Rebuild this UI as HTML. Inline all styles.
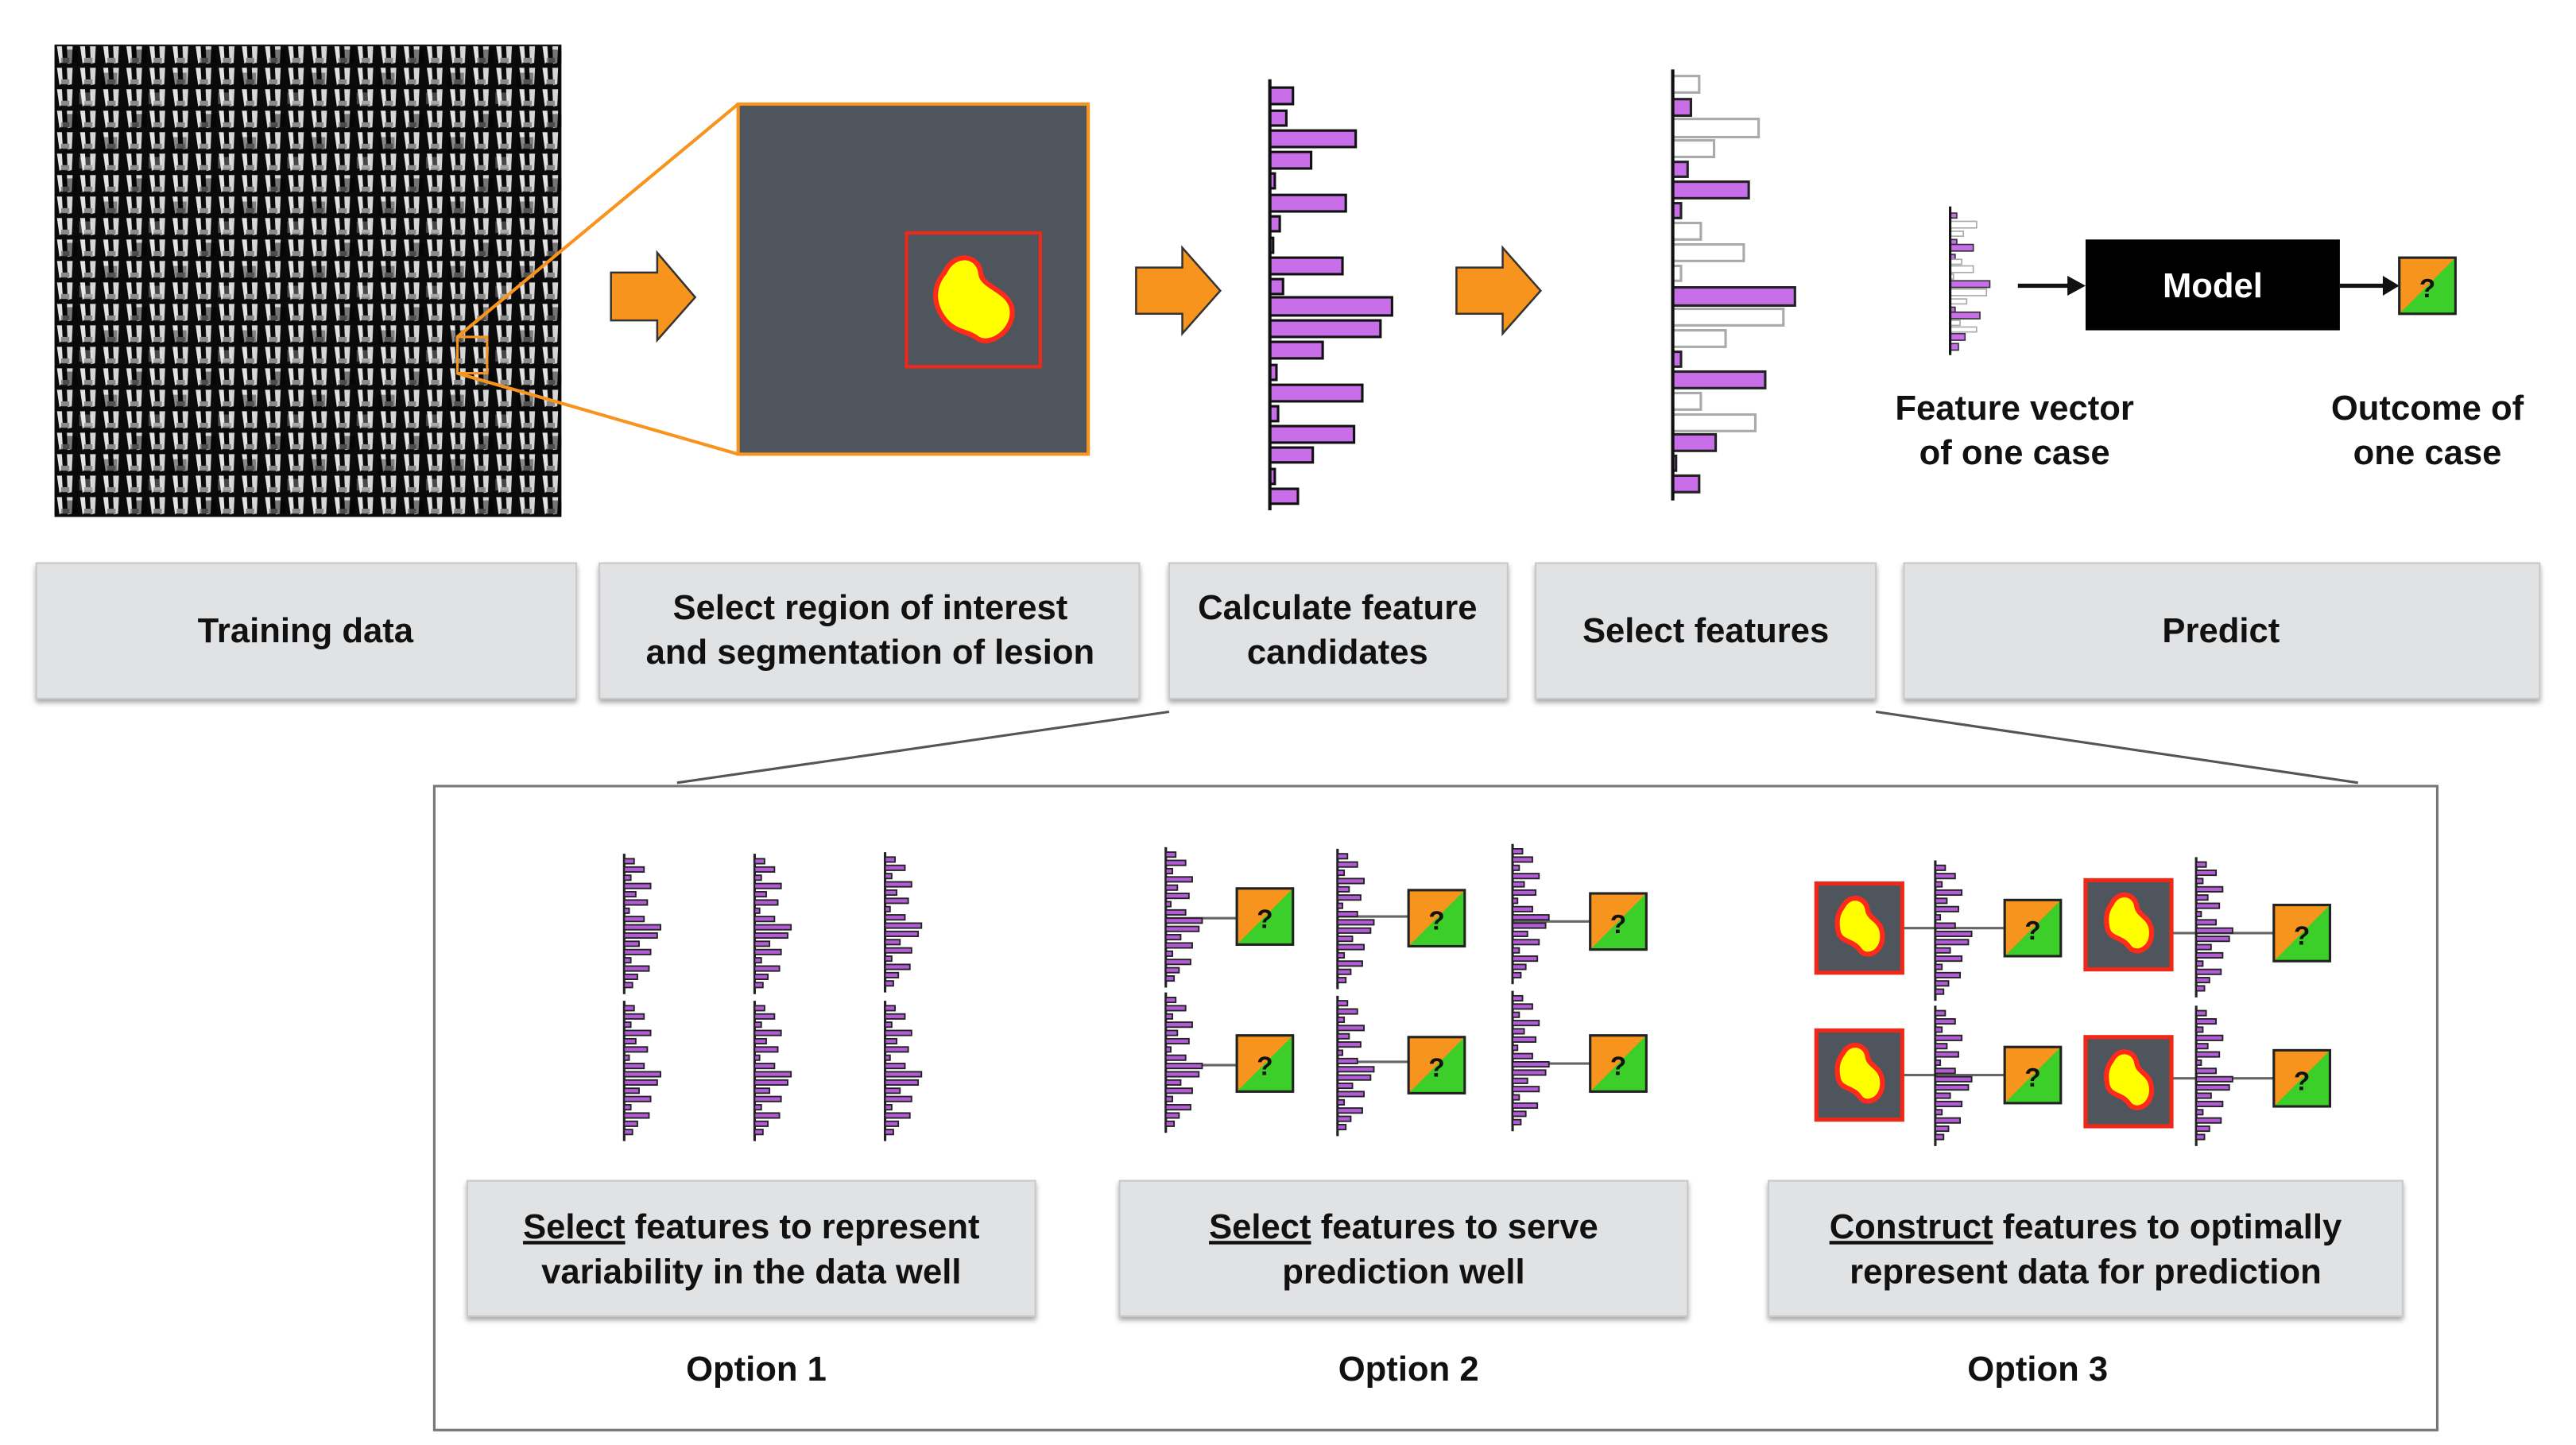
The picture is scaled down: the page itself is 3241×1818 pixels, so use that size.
<!DOCTYPE html>
<html><head><meta charset="utf-8">
<style>
html,body{margin:0;padding:0;background:#fff;}
svg{display:block;}
text{font-family:"Liberation Sans",sans-serif;font-weight:bold;fill:#111;}
</style></head>
<body>
<svg width="3241" height="1818" viewBox="0 0 1560 875" xmlns="http://www.w3.org/2000/svg">
<defs>
  <pattern id="tiles" x="33" y="27" width="14" height="13" patternUnits="userSpaceOnUse">
    <rect width="14" height="13" fill="#0a0a0a"/>
    <path d="M1.5 1 L4.5 1 L5 10 L3 11.5 Z" fill="#e4e4e4"/>
    <path d="M7.5 1 L11 1 L10.5 11 L8 11.5 Z" fill="#d6d6d6"/>
    <rect x="4" y="8" width="5" height="3" fill="#8a8a8a"/>
  </pattern>
  <pattern id="tiles2" x="33" y="27" width="42" height="39" patternUnits="userSpaceOnUse">
    <rect x="5" y="3" width="9" height="8" fill="#000" opacity="0.45"/>
    <rect x="28" y="17" width="10" height="9" fill="#000" opacity="0.4"/>
    <rect x="15" y="29" width="8" height="7" fill="#fff" opacity="0.25"/>
  </pattern>
  <filter id="sh" x="-5%" y="-10%" width="110%" height="130%">
    <feDropShadow dx="0" dy="2" stdDeviation="1.5" flood-color="#000" flood-opacity="0.35"/>
  </filter>
  <g id="q">
    <rect x="0" y="0" width="34" height="34" fill="#f7941d"/>
    <path d="M0 34 L34 0 L34 34 Z" fill="#3ccf2a"/>
    <rect x="0" y="0" width="34" height="34" fill="none" stroke="#222" stroke-width="1.5"/>
    <text x="17" y="24" font-size="16" text-anchor="middle">?</text>
  </g>
  <g id="roi">
    <rect x="0" y="0" width="52" height="54" fill="#4f555c" stroke="#f02818" stroke-width="2.5"/>
    <path d="M16 14 C20 6 30 8 31 16 C32 22 40 22 40 32 C40 42 30 46 26 40 C22 34 14 36 13 28 C12 22 13 18 16 14 Z" fill="#ffff00" stroke="#ff2a1a" stroke-width="3"/>
  </g>
  <g id="mc" fill="#b45cd8" stroke="#222" stroke-width="0.9">
    <line x1="0" y1="0" x2="0" y2="85" stroke="#222" stroke-width="1.5"/>
    <rect x="0" y="3" width="6" height="3"/>
    <rect x="0" y="8" width="12" height="3"/>
    <rect x="0" y="13" width="4" height="3"/>
    <rect x="0" y="18" width="16" height="3"/>
    <rect x="0" y="23" width="7" height="3"/>
    <rect x="0" y="28" width="14" height="3"/>
    <rect x="0" y="33" width="3" height="3"/>
    <rect x="0" y="38" width="12" height="3"/>
    <rect x="0" y="43" width="22" height="3"/>
    <rect x="0" y="48" width="20" height="3"/>
    <rect x="0" y="53" width="9" height="3"/>
    <rect x="0" y="58" width="16" height="3"/>
    <rect x="0" y="63" width="4" height="3"/>
    <rect x="0" y="68" width="15" height="3"/>
    <rect x="0" y="73" width="8" height="3"/>
    <rect x="0" y="78" width="5" height="3"/>
  </g>
</defs>

<rect x="33" y="27" width="307" height="286" fill="url(#tiles)"/>
<rect x="33" y="27" width="307" height="286" fill="url(#tiles2)"/>
<rect x="277" y="204" width="18" height="22" fill="none" stroke="#f7941d" stroke-width="1.5"/>
<line x1="277" y1="204" x2="447" y2="63" stroke="#f7941d" stroke-width="2"/>
<line x1="277" y1="226" x2="447" y2="275" stroke="#f7941d" stroke-width="2"/>

<rect x="447" y="63" width="212" height="212" fill="#4f555c" stroke="#f7941d" stroke-width="2"/>
<rect x="549" y="141" width="81" height="81" fill="none" stroke="#f02818" stroke-width="2"/>
<path d="M572 165 C578 152 593 154 594 166 C595 174 612 176 613 188 C614 200 600 210 592 205 C586 200 578 202 571 192 C564 182 566 172 572 165 Z" fill="#ffff00" stroke="#ff2a1a" stroke-width="3"/>

<g fill="#f7941d" stroke="#333" stroke-width="1.2">
  <path d="M370 165 L398 165 L398 153 L421 180 L398 206 L398 194 L370 194 Z"/>
  <path d="M688 162 L716 162 L716 150 L739 176 L716 202 L716 190 L688 190 Z"/>
  <path d="M882 162 L910 162 L910 150 L933 176 L910 202 L910 190 L882 190 Z"/>
</g>

<g fill="#c86ee8" stroke="#111" stroke-width="1.5">
  <rect x="769" y="53" width="14" height="10"/>
  <rect x="769" y="67" width="10" height="9"/>
  <rect x="769" y="79" width="52" height="10"/>
  <rect x="769" y="92" width="25" height="10"/>
  <rect x="769" y="105" width="3" height="9"/>
  <rect x="769" y="118" width="46" height="10"/>
  <rect x="769" y="131" width="6" height="9"/>
  <rect x="769" y="144" width="2" height="9"/>
  <rect x="769" y="156" width="44" height="10"/>
  <rect x="769" y="169" width="8" height="9"/>
  <rect x="769" y="180" width="74" height="11"/>
  <rect x="769" y="194" width="67" height="10"/>
  <rect x="769" y="207" width="32" height="10"/>
  <rect x="769" y="221" width="4" height="9"/>
  <rect x="769" y="233" width="56" height="10"/>
  <rect x="769" y="246" width="5" height="9"/>
  <rect x="769" y="258" width="51" height="10"/>
  <rect x="769" y="271" width="26" height="9"/>
  <rect x="769" y="284" width="3" height="9"/>
  <rect x="769" y="296" width="17" height="9"/>
</g>
<line x1="769" y1="48" x2="769" y2="309" stroke="#111" stroke-width="2"/>

<g stroke="#222" stroke-width="1.5">
  <rect x="1013" y="46" width="16" height="10" fill="#fff" stroke="#aaa"/>
  <rect x="1013" y="60" width="11" height="10" fill="#c86ee8"/>
  <rect x="1013" y="72" width="52" height="11" fill="#fff" stroke="#aaa"/>
  <rect x="1013" y="85" width="25" height="10" fill="#fff" stroke="#aaa"/>
  <rect x="1013" y="98" width="9" height="9" fill="#c86ee8"/>
  <rect x="1013" y="110" width="46" height="10" fill="#c86ee8"/>
  <rect x="1013" y="123" width="5" height="9" fill="#c86ee8"/>
  <rect x="1013" y="135" width="17" height="10" fill="#fff" stroke="#aaa"/>
  <rect x="1013" y="148" width="43" height="10" fill="#fff" stroke="#aaa"/>
  <rect x="1013" y="161" width="5" height="9" fill="#fff" stroke="#aaa"/>
  <rect x="1013" y="174" width="74" height="11" fill="#c86ee8"/>
  <rect x="1013" y="187" width="67" height="10" fill="#fff" stroke="#aaa"/>
  <rect x="1013" y="200" width="32" height="10" fill="#fff" stroke="#aaa"/>
  <rect x="1013" y="213" width="5" height="9" fill="#c86ee8"/>
  <rect x="1013" y="225" width="56" height="10" fill="#c86ee8"/>
  <rect x="1013" y="238" width="17" height="10" fill="#fff" stroke="#aaa"/>
  <rect x="1013" y="251" width="50" height="10" fill="#fff" stroke="#aaa"/>
  <rect x="1013" y="263" width="26" height="10" fill="#c86ee8"/>
  <rect x="1013" y="276" width="2" height="9" fill="#c86ee8"/>
  <rect x="1013" y="288" width="16" height="10" fill="#c86ee8"/>
</g>
<line x1="1013" y1="42" x2="1013" y2="303" stroke="#111" stroke-width="2"/>

<g stroke="#333" stroke-width="0.8">
  <rect x="1181" y="129" width="4" height="3" fill="#c86ee8"/>
  <rect x="1181" y="134" width="16" height="4" fill="#fff" stroke="#aaa"/>
  <rect x="1181" y="140" width="8" height="3" fill="#fff" stroke="#aaa"/>
  <rect x="1181" y="145" width="4" height="3" fill="#c86ee8"/>
  <rect x="1181" y="148" width="14" height="4" fill="#c86ee8"/>
  <rect x="1181" y="154" width="3" height="3" fill="#c86ee8"/>
  <rect x="1181" y="157" width="7" height="3" fill="#fff" stroke="#aaa"/>
  <rect x="1181" y="161" width="14" height="4" fill="#fff" stroke="#aaa"/>
  <rect x="1181" y="166" width="2" height="3" fill="#fff" stroke="#aaa"/>
  <rect x="1181" y="170" width="24" height="4" fill="#c86ee8"/>
  <rect x="1181" y="175" width="22" height="4" fill="#fff" stroke="#aaa"/>
  <rect x="1181" y="181" width="10" height="3" fill="#fff" stroke="#aaa"/>
  <rect x="1181" y="186" width="3" height="3" fill="#c86ee8"/>
  <rect x="1181" y="189" width="18" height="4" fill="#c86ee8"/>
  <rect x="1181" y="194" width="6" height="3" fill="#fff" stroke="#aaa"/>
  <rect x="1181" y="198" width="16" height="3" fill="#fff" stroke="#aaa"/>
  <rect x="1181" y="202" width="9" height="4" fill="#c86ee8"/>
  <rect x="1181" y="208" width="5" height="4" fill="#c86ee8"/>
</g>
<line x1="1181" y1="125" x2="1181" y2="215" stroke="#111" stroke-width="1.5"/>

<line x1="1222" y1="173" x2="1254" y2="173" stroke="#111" stroke-width="2.5"/>
<path d="M1252 167 L1263 173 L1252 179 Z" fill="#111"/>
<rect x="1263" y="145" width="154" height="55" fill="#000"/>
<text x="1340" y="180" font-size="21" text-anchor="middle" style="fill:#fff">Model</text>
<line x1="1417" y1="173" x2="1445" y2="173" stroke="#111" stroke-width="2.5"/>
<path d="M1443 167 L1453 173 L1443 179 Z" fill="#111"/>
<use href="#q" x="1453" y="156"/>
<text x="1220" y="254" font-size="21" text-anchor="middle">Feature vector</text>
<text x="1220" y="281" font-size="21" text-anchor="middle">of one case</text>
<text x="1470" y="254" font-size="21" text-anchor="middle">Outcome of</text>
<text x="1470" y="281" font-size="21" text-anchor="middle">one case</text>

<g fill="#e1e2e4" stroke="#c8c8c8" stroke-width="1" filter="url(#sh)">
  <rect x="22" y="341" width="327" height="82"/>
  <rect x="363" y="341" width="327" height="82"/>
  <rect x="708" y="341" width="205" height="82"/>
  <rect x="930" y="341" width="206" height="82"/>
  <rect x="1153" y="341" width="385" height="82"/>
</g>
<g font-size="21" text-anchor="middle">
  <text x="185" y="389">Training data</text>
  <text x="527" y="375">Select region of interest</text>
  <text x="527" y="402">and segmentation of lesion</text>
  <text x="810" y="375">Calculate feature</text>
  <text x="810" y="402">candidates</text>
  <text x="1033" y="389">Select features</text>
  <text x="1345" y="389">Predict</text>
</g>

<line x1="708" y1="431" x2="410" y2="474" stroke="#555" stroke-width="1.5"/>
<line x1="1136" y1="431" x2="1428" y2="474" stroke="#555" stroke-width="1.5"/>
<rect x="263" y="476" width="1213" height="390" fill="#fff" stroke="#777" stroke-width="1.5"/>

<use href="#mc" x="378" y="517"/><use href="#mc" x="457" y="517"/><use href="#mc" x="536" y="516"/>
<use href="#mc" x="378" y="606"/><use href="#mc" x="457" y="606"/><use href="#mc" x="536" y="606"/>

<g stroke="#666" stroke-width="1.5">
  <line x1="706" y1="556" x2="749" y2="556"/><line x1="810" y1="555" x2="853" y2="555"/><line x1="916" y1="558" x2="963" y2="558"/>
  <line x1="706" y1="645" x2="749" y2="645"/><line x1="810" y1="643" x2="853" y2="643"/><line x1="916" y1="644" x2="963" y2="644"/>
</g>
<use href="#mc" x="706" y="513"/><use href="#mc" x="810" y="514"/><use href="#mc" x="916" y="511"/>
<use href="#mc" x="706" y="601"/><use href="#mc" x="810" y="603"/><use href="#mc" x="916" y="600"/>
<use href="#q" x="749" y="538"/><use href="#q" x="853" y="539"/><use href="#q" x="963" y="541"/>
<use href="#q" x="749" y="627"/><use href="#q" x="853" y="628"/><use href="#q" x="963" y="627"/>

<g stroke="#666" stroke-width="1.5">
  <line x1="1152" y1="562" x2="1214" y2="562"/><line x1="1315" y1="565" x2="1377" y2="565"/>
  <line x1="1152" y1="651" x2="1214" y2="651"/><line x1="1315" y1="653" x2="1377" y2="653"/>
</g>
<use href="#roi" x="1100" y="535"/><use href="#roi" x="1263" y="533"/>
<use href="#roi" x="1100" y="624"/><use href="#roi" x="1263" y="628"/>
<use href="#mc" x="1172" y="521"/><use href="#mc" x="1330" y="519"/>
<use href="#mc" x="1172" y="609"/><use href="#mc" x="1330" y="609"/>
<use href="#q" x="1214" y="545"/><use href="#q" x="1377" y="548"/>
<use href="#q" x="1214" y="634"/><use href="#q" x="1377" y="636"/>

<g fill="#e1e2e4" stroke="#c8c8c8" stroke-width="1" filter="url(#sh)">
  <rect x="283" y="715" width="344" height="82"/>
  <rect x="678" y="715" width="344" height="82"/>
  <rect x="1071" y="715" width="384" height="82"/>
</g>
<g font-size="21" text-anchor="middle">
  <text x="455" y="750"><tspan text-decoration="underline">Select</tspan> features to represent</text>
  <text x="455" y="777">variability in the data well</text>
  <text x="850" y="750"><tspan text-decoration="underline">Select</tspan> features to serve</text>
  <text x="850" y="777">prediction well</text>
  <text x="1263" y="750"><tspan text-decoration="underline">Construct</tspan> features to optimally</text>
  <text x="1263" y="777">represent data for prediction</text>
  <text x="458" y="836">Option 1</text>
  <text x="853" y="836">Option 2</text>
  <text x="1234" y="836">Option 3</text>
</g>
</svg>
</body></html>
